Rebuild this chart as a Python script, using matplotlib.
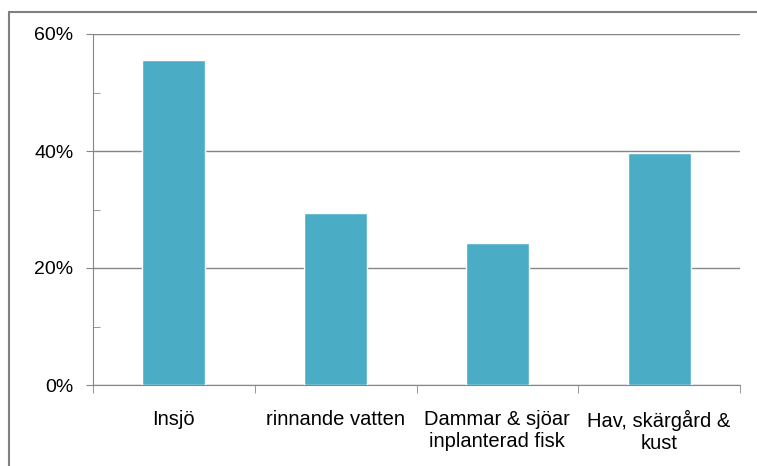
import matplotlib.pyplot as plt
from matplotlib.patches import Rectangle
from matplotlib.ticker import MultipleLocator, FuncFormatter

categories = ["Insjö", "rinnande vatten", "Dammar & sjöar\ninplanterad fisk", "Hav, skärgård &\nkust"]
shares = [55.5, 29.4, 24.3, 39.7]
y_ticks = [0, 20, 40, 60]

plt.rcParams['font.family'] = ['Liberation Sans', 'DejaVu Sans']

fig = plt.figure(figsize=(7.57, 4.66), dpi=100)
fig.patches.append(Rectangle((9 / 757, -0.1), 1.2, 1 - 12 / 466 + 0.1,
                             transform=fig.transFigure, fill=False,
                             edgecolor='#808080', linewidth=1.5))

ax = fig.add_axes([93 / 757, 1 - 385 / 466, (740 - 93) / 757, (385 - 34) / 466])
x = list(range(len(categories)))
ax.bar(x, shares, width=0.39, color='#4BACC6', edgecolor='white', linewidth=1.0, zorder=3)

ax.set_xlim(-0.5, len(categories) - 0.5)
ax.set_ylim(0, 60)
ax.set_yticks(y_ticks)
ax.yaxis.set_minor_locator(MultipleLocator(10))
ax.yaxis.set_major_formatter(FuncFormatter(lambda v, p: f"{v:.0f}%"))
ax.grid(axis='y', which='major', color='#868686', linewidth=1.0, zorder=0)

ax.set_xticks(x)
ax.set_xticklabels(categories, fontsize=14.5, linespacing=1.2)
ax.set_xticks([i - 0.5 for i in range(len(categories) + 1)], minor=True)
ax.tick_params(axis='x', which='major', length=0, pad=18)
ax.tick_params(axis='x', which='minor', length=6, color='#868686', direction='out')
ax.tick_params(axis='y', which='major', length=5, color='#868686', labelsize=14, pad=9)
ax.tick_params(axis='y', which='minor', length=5, color='#868686', direction='in')

for side in ['top', 'right']:
    ax.spines[side].set_visible(False)
for side in ['left', 'bottom']:
    ax.spines[side].set_color('#868686')

fig.savefig("out.png", dpi=100)
